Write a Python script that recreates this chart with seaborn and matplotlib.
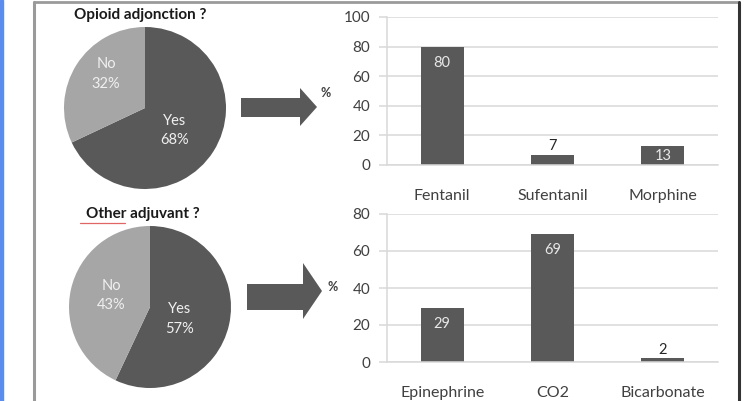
import matplotlib
matplotlib.use("Agg")
import matplotlib.pyplot as plt
import seaborn as sns
import numpy as np
from matplotlib.patches import Polygon, Rectangle
from matplotlib.lines import Line2D

# ---- data ----
opioid_answers = ["Yes", "No"]
opioid_shares = [68, 32]
other_answers = ["Yes", "No"]
other_shares = [57, 43]

opioid_drugs = ["Fentanil", "Sufentanil", "Morphine"]
opioid_pct = [80, 7, 13]
adjuvants = ["Epinephrine", "CO2", "Bicarbonate"]
adjuvant_pct = [29, 69, 2]

opioid_title = "Opioid adjonction ?"
other_title = "Other adjuvant ?"

# ---- style ----
sns.set_theme(style="white")
plt.rcParams["font.family"] = ["Lato", "DejaVu Sans"]

DARK = "#595959"
LIGHT = "#A6A6A6"
GRID = "#D9D9D9"
TEXT = "#404040"

W, H = 744, 401
fig = plt.figure(figsize=(W / 100, H / 100), dpi=100)
fig.patch.set_facecolor("white")


def px_axes(left, top, width, height):
    """Create axes from pixel coordinates measured from the top-left corner."""
    return fig.add_axes([left / W, 1 - (top + height) / H, width / W, height / H])


def fx(x):
    return x / W


def fy(y):
    return 1 - y / H


# ---- frame around the panel ----
fig.patches.append(Rectangle((0, 0), fx(3), 1, transform=fig.transFigure,
                             color="#5B8DEF", zorder=0))
fig.lines.append(Line2D([fx(33.5), fx(33.5)], [0, fy(1.5)], transform=fig.transFigure,
                        color="#9A9A9A", lw=2.2))
fig.lines.append(Line2D([fx(33.5), fx(738)], [fy(1.5), fy(1.5)], transform=fig.transFigure,
                        color="#9A9A9A", lw=2.0))
fig.lines.append(Line2D([fx(738.5), fx(738.5)], [0, fy(1.5)], transform=fig.transFigure,
                        color="#333333", lw=2.2))


# ---- pies ----
def draw_pie(cx, cy, r, labels, shares, label_xy):
    ax = px_axes(cx - r, cy - r, 2 * r, 2 * r)
    ax.pie(shares, colors=[DARK, LIGHT], startangle=90, counterclock=False,
           wedgeprops=dict(linewidth=0))
    for lab, val, (tx, ty) in zip(labels, shares, label_xy):
        ax.text(tx, ty, f"{lab}\n{val}%", ha="center", va="center",
                color="#F0F0F0", fontsize=10.5, linespacing=1.5)
    ax.set_xlim(-1.0, 1.0)
    ax.set_ylim(-1.0, 1.0)
    ax.set_aspect("equal")
    ax.axis("off")
    return ax


draw_pie(145, 108, 81, opioid_answers, opioid_shares, [(0.37, -0.28), (-0.48, 0.42)])
draw_pie(150, 307, 81, other_answers, other_shares, [(0.37, -0.15), (-0.48, 0.14)])

fig.text(fx(140), fy(15), opioid_title, ha="center", va="center", fontsize=11,
         fontweight="bold", color="#1A1A1A")
fig.text(fx(143), fy(214), other_title, ha="center", va="center", fontsize=11,
         fontweight="bold", color="#1A1A1A")
fig.lines.append(Line2D([fx(80), fx(125)], [fy(223), fy(223)], transform=fig.transFigure,
                        color="#E06666", lw=0.9))


# ---- arrows ----
def arrow(x0, xb, xt, body_top, body_bot, head_top, head_bot):
    ymid = (head_top + head_bot) / 2
    pts = [(x0, body_top), (xb, body_top), (xb, head_top), (xt, ymid),
           (xb, head_bot), (xb, body_bot), (x0, body_bot)]
    fig.patches.append(Polygon([(fx(x), fy(y)) for x, y in pts], closed=True,
                               transform=fig.transFigure, color=DARK, lw=0))


arrow(241, 300, 317, 98, 117, 88, 126)
arrow(247, 303, 322, 284, 310, 263, 319)

fig.text(fx(326), fy(93), "%", ha="center", va="center", fontsize=9,
         fontweight="bold", color=TEXT)
fig.text(fx(333), fy(287), "%", ha="center", va="center", fontsize=9,
         fontweight="bold", color=TEXT)


# ---- bar charts ----
def draw_bars(top, bottom, cats, vals, ymax):
    ax = px_axes(387, top, 331, bottom - top)
    sns.barplot(x=cats, y=vals, color=DARK, saturation=1, width=0.39, ax=ax,
                edgecolor="none")
    ax.set_ylim(0, ymax)
    ax.set_xlim(-0.5, 2.5)
    ax.set_yticks(np.arange(0, ymax + 1, 20))
    ax.yaxis.grid(True, color=GRID, lw=1.1)
    ax.set_axisbelow(True)
    for s in ["top", "right"]:
        ax.spines[s].set_visible(False)
    for s in ["left", "bottom"]:
        ax.spines[s].set_color(GRID)
        ax.spines[s].set_linewidth(1.1)
    ax.tick_params(axis="y", length=6, width=1.1, color=GRID, pad=6,
                   labelsize=11, labelcolor=TEXT, left=True)
    ax.tick_params(axis="x", length=0, pad=17, labelsize=11.5, labelcolor=TEXT)
    ax.set_xlabel("")
    ax.set_ylabel("")
    # value labels: inside tall bars, above short ones
    ppu = (bottom - top) / ymax * 0.72  # points per data unit
    for i, v in enumerate(vals):
        h = v * ppu
        if h > 20:
            ax.annotate(f"{v}", (i, v), xytext=(0, -11.5), textcoords="offset points",
                        ha="center", va="center", fontsize=10.5, color="#E8E8E8")
        elif v >= 10:
            ax.annotate(f"{v}", (i, v / 2), xytext=(0, -0.5), textcoords="offset points",
                        ha="center", va="center", fontsize=10.5, color="#E8E8E8")
        else:
            ax.annotate(f"{v}", (i, v), xytext=(0, 6), textcoords="offset points",
                        ha="center", va="center", fontsize=10.5, color="#262626")
    return ax


draw_bars(17, 165, opioid_drugs, opioid_pct, 100)
draw_bars(214, 362, adjuvants, adjuvant_pct, 80)

fig.savefig("out.png", dpi=100, facecolor="white")
